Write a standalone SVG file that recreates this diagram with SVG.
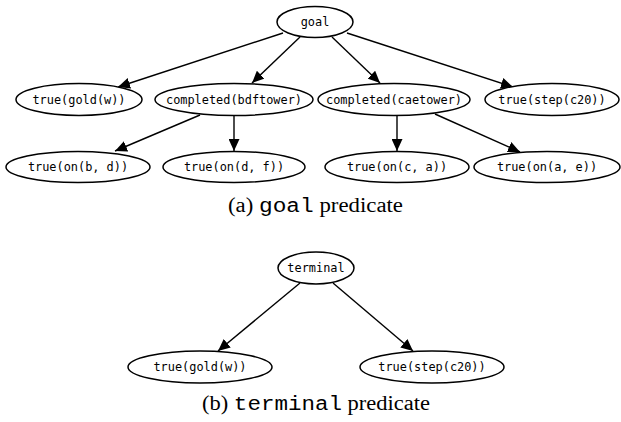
<svg xmlns="http://www.w3.org/2000/svg" width="621" height="422" viewBox="0 0 621 422">
<style>
.n ellipse{fill:#fff;stroke:#000;stroke-width:1.5}
.n text{font-family:"DejaVu Sans Mono",monospace;font-size:11.9px;text-anchor:middle;dominant-baseline:central;fill:#000}
.e line{stroke:#000;stroke-width:1.4;marker-end:url(#ah)}
.cap{font-family:"Liberation Serif",serif;font-size:20px;text-anchor:middle;fill:#000}
.mono{font-family:"Liberation Mono",monospace}
</style>
<defs>
<marker id="ah" markerUnits="userSpaceOnUse" markerWidth="13" markerHeight="11" refX="12" refY="5.5" orient="auto">
<path d="M0,0 L12,5.5 L0,11 Z" fill="#000"/>
</marker>
</defs>
<rect width="621" height="422" fill="#fff"/>
<g class="e" id="connectors">
<line x1="283" y1="33" x2="118" y2="87"/>
<line x1="300" y1="37" x2="252" y2="83"/>
<line x1="332" y1="37" x2="380" y2="83"/>
<line x1="347" y1="33" x2="513" y2="87"/>
<line x1="200" y1="115" x2="115" y2="151"/>
<line x1="234" y1="116" x2="234" y2="151"/>
<line x1="397" y1="116" x2="397" y2="151"/>
<line x1="435" y1="114" x2="520" y2="152"/>
<line x1="300" y1="283" x2="218" y2="351"/>
<line x1="333" y1="283" x2="413" y2="351"/>
</g>
<g class="n" id="goal"><ellipse cx="315" cy="22" rx="38" ry="15.5"/><text x="315" y="22">goal</text></g>
<g class="n" id="gold1"><ellipse cx="79" cy="99.5" rx="63" ry="16"/><text x="79" y="99.5">true(gold(w))</text></g>
<g class="n" id="bdf"><ellipse cx="234" cy="99.5" rx="79" ry="16"/><text x="234" y="99.5">completed(bdftower)</text></g>
<g class="n" id="cae"><ellipse cx="394" cy="99.5" rx="76" ry="16"/><text x="394" y="99.5">completed(caetower)</text></g>
<g class="n" id="step1"><ellipse cx="552" cy="99.5" rx="67" ry="16"/><text x="552" y="99.5">true(step(c20))</text></g>
<g class="n" id="onbd"><ellipse cx="78" cy="167" rx="72" ry="15.5"/><text x="78" y="167">true(on(b, d))</text></g>
<g class="n" id="ondf"><ellipse cx="234" cy="167" rx="71" ry="15.5"/><text x="234" y="167">true(on(d, f))</text></g>
<g class="n" id="onca"><ellipse cx="397" cy="167" rx="72" ry="15.5"/><text x="397" y="167">true(on(c, a))</text></g>
<g class="n" id="onae"><ellipse cx="547" cy="167" rx="73" ry="15.5"/><text x="547" y="167">true(on(a, e))</text></g>
<text class="cap" x="315.5" y="212" textLength="175" lengthAdjust="spacingAndGlyphs">(a) <tspan class="mono">goal</tspan> predicate</text>
<g class="n" id="terminal"><ellipse cx="316" cy="268" rx="38" ry="16"/><text x="316" y="268">terminal</text></g>
<g class="n" id="gold2"><ellipse cx="200" cy="367" rx="72" ry="16"/><text x="200" y="367">true(gold(w))</text></g>
<g class="n" id="step2"><ellipse cx="432" cy="367" rx="72" ry="16"/><text x="432" y="367">true(step(c20))</text></g>
<text class="cap" x="316" y="410" textLength="228" lengthAdjust="spacingAndGlyphs">(b) <tspan class="mono">terminal</tspan> predicate</text>
</svg>
